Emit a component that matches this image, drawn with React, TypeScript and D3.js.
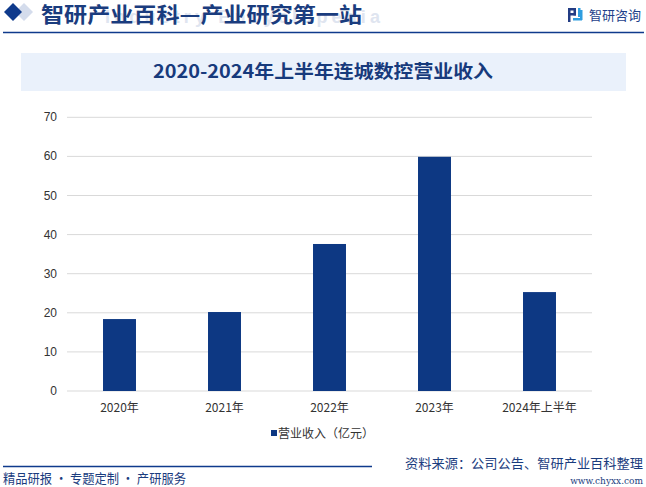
import React from "react";
import * as d3 from "d3";

const categories = ["2020年", "2021年", "2022年", "2023年", "2024年上半年"];
const revenue = [18.4, 20.2, 37.6, 59.9, 25.3];
const yTicks = [0, 10, 20, 30, 40, 50, 60, 70];
const seriesName = "营业收入（亿元）";
const chartTitle = "2020-2024年上半年连城数控营业收入";

const W = 646;
const H = 487;
const NAVY = "#0d3883";
const CJK = "'Noto Sans CJK SC', 'Noto Sans', sans-serif";

export default function App() {
  const x = d3.scaleBand<string>().domain(categories).range([67, 592]).paddingInner(0.686).paddingOuter(0.343);
  const y = d3.scaleLinear().domain([0, 70]).range([391, 117.3]);

  return (
    <svg width={W} height={H} style={{ position: "absolute", left: 0, top: 0, background: "#fff" }}>
      <rect width={W} height={H} fill="#fff" />
      {/* header */}
      <path d="M24,3 L33,12 L24,21 L15,12 Z" fill="#d4dcec" />
      <path d="M13,3 L22,12 L13,21 L4,12 Z" fill="#0f3a8c" />
      <text x={105} y={23} fontFamily="Arial, 'Liberation Sans', sans-serif" fontWeight="bold" fontSize={18} fill="#dfe5f0" textLength={275} lengthAdjust="spacing">
        Industry Encyclopedia
      </text>
      <text x={41} y={22} fontFamily={CJK} fontWeight="bold" fontSize={21} fill="#1a3c7e" textLength={321} lengthAdjust="spacingAndGlyphs">
        智研产业百科—产业研究第一站
      </text>
      <line x1={3} x2={644} y1={32.5} y2={32.5} stroke="#0f3a8c" strokeWidth={1.5} />
      {/* logo */}
      <g>
        <rect x={568} y={8} width={8} height={2.5} fill="#233c84" />
        <rect x={568} y={8} width={2.5} height={14} fill="#233c84" />
        <rect x={568} y={13} width={8} height={2.5} fill="#233c84" />
        <rect x={573.5} y={8} width={2.5} height={7.5} fill="#233c84" />
        <rect x={578} y={8} width={2.5} height={9} fill="#2f9ee0" />
        <rect x={573} y={18} width={9} height={2.5} fill="#2f9ee0" />
        <rect x={580} y={10} width={2.5} height={10} fill="#2f9ee0" />
      </g>
      <text x={589} y={20} fontFamily={CJK} fontSize={13} fill="#1e3f8a">智研咨询</text>
      {/* title box */}
      <rect x={21} y={53} width={605} height={38} fill="#eaf1fb" />
      <text x={323} y={78} textAnchor="middle" fontFamily={CJK} fontWeight="bold" fontSize={18} fill="#173a7c" textLength={340} lengthAdjust="spacingAndGlyphs">
        {chartTitle}
      </text>
      {/* grid & y axis */}
      {yTicks.map((t) => (
        <g key={t}>
          <line x1={67} x2={592} y1={y(t)} y2={y(t)} stroke="#d9d9d9" strokeWidth={1} />
          <text x={57} y={y(t) + 4} textAnchor="end" fontFamily="Arial, 'Liberation Sans', sans-serif" fontSize={12} fill="#333">
            {t}
          </text>
        </g>
      ))}
      {/* bars */}
      {categories.map((c, i) => (
        <rect key={c} x={x(c)} y={y(revenue[i])} width={x.bandwidth()} height={y(0) - y(revenue[i])} fill={NAVY} />
      ))}
      {/* x labels */}
      {categories.map((c) => (
        <text key={c} x={(x(c) as number) + x.bandwidth() / 2} y={412} textAnchor="middle" fontFamily={CJK} fontSize={12} fill="#333">
          {c}
        </text>
      ))}
      {/* legend */}
      <rect x={271} y={430} width={6} height={6} fill={NAVY} />
      <text x={278} y={438} fontFamily={CJK} fontSize={12} fill="#333">{seriesName}</text>
      {/* footer */}
      <line x1={3} x2={372} y1={466.5} y2={466.5} stroke="#0f3a8c" strokeWidth={1.5} />
      <text x={3} y={483} fontFamily={CJK} fontSize={13} fill="#1a3c7e" textLength={183} lengthAdjust="spacingAndGlyphs">精品研报 · 专题定制 · 产研服务</text>
      <text x={643} y={468} textAnchor="end" fontFamily={CJK} fontSize={13} fill="#1a3c7e" textLength={238} lengthAdjust="spacingAndGlyphs">资料来源：公司公告、智研产业百科整理</text>
      <text x={643} y={484} textAnchor="end" fontFamily="'DejaVu Serif', serif" fontSize={9} fill="#1a3c7e">www.chyxx.com</text>
    </svg>
  );
}
